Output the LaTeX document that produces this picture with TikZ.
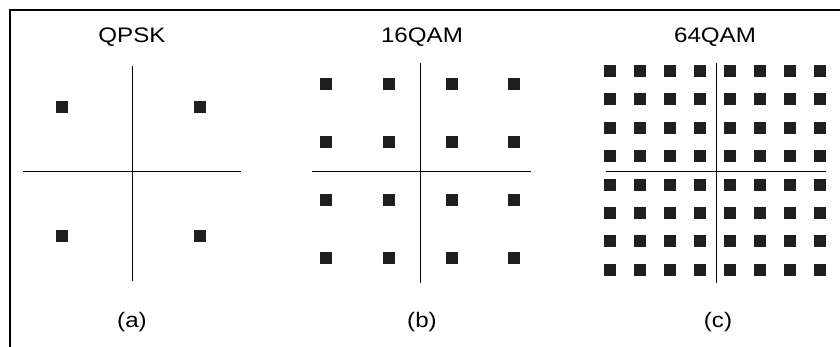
\documentclass[tikz,border=0pt]{standalone}
\usepackage{fontspec}
\newfontfamily\capfont[FakeStretch=1.15]{Liberation Sans}

\tikzset{
  pt/.style={fill=black!88,minimum size=12pt,inner sep=0pt},
  axis/.style={line width=1pt},
  lbl/.style={font=\capfont\fontsize{21}{24}\selectfont,inner sep=0pt},
}

\begin{document}
\begin{tikzpicture}[x=1pt,y=-1pt]
    \useasboundingbox (0,0) rectangle (840,347);
    % frame
    \draw[line width=1.5pt] (840,10) -- (10,10) -- (10,347);

    % (a) QPSK
    \node[lbl] (ta) at (132,37) {QPSK};
    \draw[axis] (23,172) -- (241,172);
    \draw[axis] (132,66) -- (132,281);
    \foreach \i/\x in {1/62,2/200}
      \foreach \j/\y in {1/107,2/236}
        \node[pt] (a-\i-\j) at (\x,\y) {};
    \node[lbl] (la) at (132,322) {(a)};

    % (b) 16QAM
    \node[lbl] (tb) at (422,37) {16QAM};
    \draw[axis] (312,172) -- (531,172);
    \draw[axis] (420,63) -- (420,283);
    \foreach \i/\x in {1/326,2/389,3/452,4/514}
      \foreach \j/\y in {1/84,2/142,3/200,4/258}
        \node[pt] (b-\i-\j) at (\x,\y) {};
    \node[lbl] (lb) at (422,322) {(b)};

    % (c) 64QAM
    \node[lbl] (tc) at (715,37) {64QAM};
    \draw[axis] (606,172) -- (826,172);
    \draw[axis] (716,63) -- (716,283);
    \foreach \i in {0,...,7}
      \foreach \j in {0,...,7}
        \node[pt] (c-\i-\j) at (610+30*\i,71+28.4*\j) {};
    \node[lbl] (lc) at (718,322) {(c)};
\end{tikzpicture}
\end{document}
